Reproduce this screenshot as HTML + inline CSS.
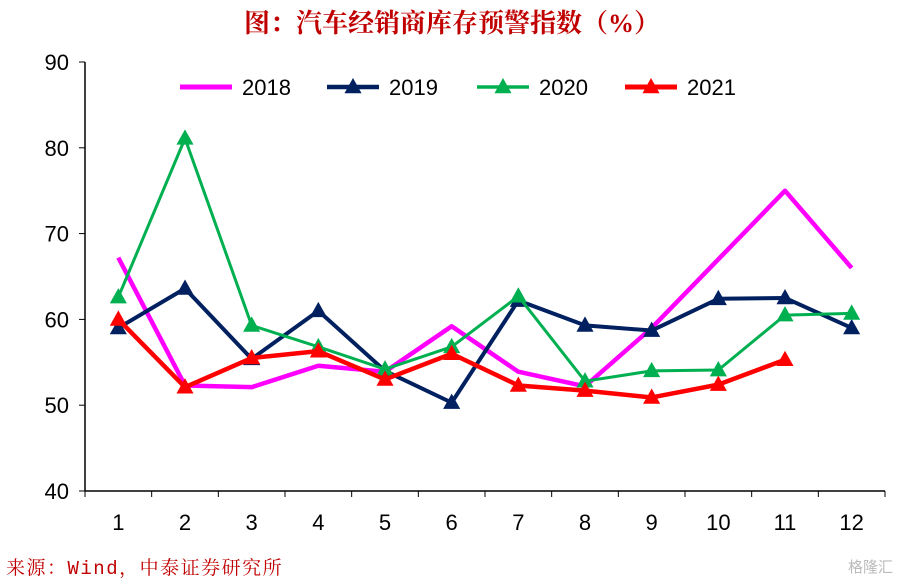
<!DOCTYPE html>
<html><head><meta charset="utf-8"><style>
body{margin:0;background:#fff;width:899px;height:581px;overflow:hidden}
svg{display:block}
text{font-family:"Liberation Sans","Noto Sans CJK SC",sans-serif}
</style></head><body>
<svg id="c" width="899" height="581">
<text x="452" y="32" text-anchor="middle" font-size="26" font-weight="bold" fill="#c00000" style="font-family:'Liberation Serif','Noto Serif CJK SC',serif">图：汽车经销商库存预警指数（%）</text>
<text x="6" y="574" font-size="19" letter-spacing="1.5" fill="#c00000" style="font-family:'Liberation Mono','Noto Serif CJK SC',serif">来源：Wind，中泰证券研究所</text>
<text x="893" y="572" text-anchor="end" font-size="15" fill="#bbb">格隆汇</text>
<g id="axes"></g><g id="series"></g><g id="legend"></g>
</svg>
<script>
const categories=["1","2","3","4","5","6","7","8","9","10","11","12"];
const yTicks=[40,50,60,70,80,90];
const s2018=[67.2,52.3,52.1,54.6,53.9,59.2,53.9,52.2,59,67,75,66];
const s2019=[59,63.6,55.4,61,54,50.3,62.2,59.3,58.7,62.4,62.5,59];
const s2020=[62.6,81.1,59.3,56.8,54.2,56.8,62.7,52.8,54,54.1,60.5,60.7];
const s2021=[60,52.1,55.5,56.3,53,56,52.3,51.7,50.9,52.4,55.3];
const seriesNames=["2018","2019","2020","2021"];
const NS="http://www.w3.org/2000/svg";
const X0=85,X1=885,Y0=491,Y1=62;
const step=(X1-X0)/categories.length;
const xs=i=>X0+step*(i+0.5);
const ys=v=>Y0-(v-40)/50*(Y0-Y1);
function mk(p,t,a){const e=document.createElementNS(NS,t);for(const k in a)e.setAttribute(k,a[k]);p.appendChild(e);return e;}
const ax=document.getElementById('axes');
let l=mk(ax,'line',{x1:X0,y1:Y1,x2:X0,y2:Y0,stroke:'#000','stroke-width':1.5});

l=mk(ax,'line',{x1:X0,y1:Y0,x2:X1,y2:Y0,stroke:'#000','stroke-width':1.5});

yTicks.forEach(v=>{mk(ax,'line',{x1:X0-6,y1:ys(v),x2:X0,y2:ys(v),stroke:'#000'});
const t=mk(ax,'text',{x:69,y:ys(v)+8,'text-anchor':'end','font-size':22});t.textContent=v;
});
for(let i=0;i<=categories.length;i++)mk(ax,'line',{x1:X0+step*i,y1:Y0,x2:X0+step*i,y2:Y0+6,stroke:'#000'});
categories.forEach((c,i)=>{const t=mk(ax,'text',{x:xs(i),y:530,'text-anchor':'middle','font-size':22});t.textContent=c;
});
const sg=document.getElementById('series');
function tri(g,x,y,col,r){return mk(g,'polygon',{points:`${x},${y-r} ${x-r*0.95},${y+r*0.7} ${x+r*0.95},${y+r*0.7}`,fill:col});}
const defs=[[s2018,'#ff00ff',4.5,false],[s2019,'#002060',4,true],[s2020,'#00b050',3,true],[s2021,'#ff0000',4.5,true]];
defs.forEach(([d,col,w,m],k)=>{const g=mk(sg,'g',{});

const p=mk(g,'polyline',{points:d.map((v,i)=>xs(i)+','+ys(v)).join(' '),fill:'none',stroke:col,'stroke-width':w,'stroke-linejoin':'round'});

if(m)d.forEach((v,i)=>{const t=tri(g,xs(i),ys(v),col,9);});});
const lg=document.getElementById('legend');
const lx=[180,327,477,625];
defs.forEach(([d,col,w,m],k)=>{const g=mk(lg,'g',{});

mk(g,'line',{x1:lx[k],y1:87,x2:lx[k]+52,y2:87,stroke:col,'stroke-width':w+0.5});
if(m)tri(g,lx[k]+26,87,col,9);
const t=mk(g,'text',{x:lx[k]+62,y:95,'font-size':22});t.textContent=seriesNames[k];});
</script>
</body></html>
